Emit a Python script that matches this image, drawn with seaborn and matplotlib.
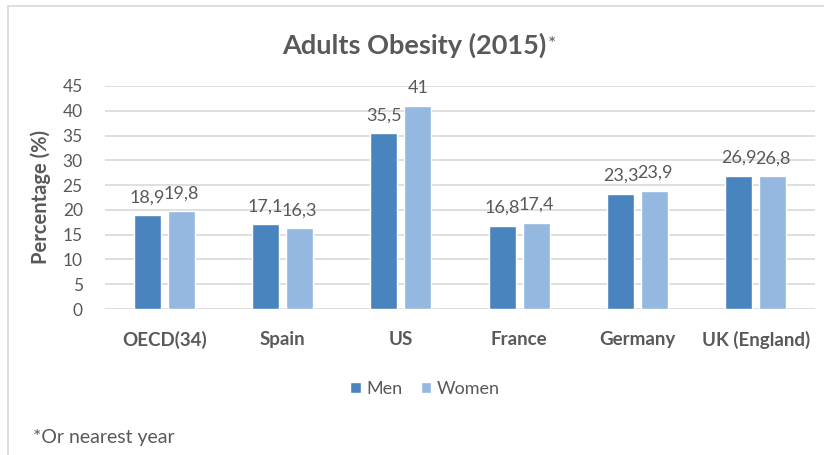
import matplotlib
matplotlib.use("Agg")
import matplotlib.pyplot as plt
import seaborn as sns
import pandas as pd
from matplotlib.patches import Patch
from matplotlib.lines import Line2D

countries = ["OECD(34)", "Spain", "US", "France", "Germany", "UK (England)"]
men = [18.9, 17.1, 35.5, 16.8, 23.3, 26.9]
women = [19.8, 16.3, 41.0, 17.4, 23.9, 26.8]
y_ticks = [0, 5, 10, 15, 20, 25, 30, 35, 40, 45]

men_color = "#4A84BE"
women_color = "#95B8E0"
text_color = "#595959"
grid_color = "#D9D9D9"

sns.set_theme(style="white")
plt.rcParams["font.family"] = ["Lato", "DejaVu Sans"]

df = pd.DataFrame({
    "country": countries * 2,
    "value": men + women,
    "sex": ["Men"] * len(countries) + ["Women"] * len(countries),
})

fig = plt.figure(figsize=(8.24, 4.55), dpi=100)
ax = fig.add_axes([105 / 824, 1 - 309 / 455, 710 / 824, (309 - 86) / 455])

sns.barplot(data=df, x="country", y="value", hue="sex", order=countries,
            hue_order=["Men", "Women"], palette=[men_color, women_color],
            width=0.575, gap=0.2, saturation=1, legend=False, ax=ax, zorder=3)

ax.set_xlim(-0.5, len(countries) - 0.5)
ax.set_ylim(0, 45)
ax.set_yticks(y_ticks)
ax.yaxis.grid(True, color=grid_color, linewidth=1.2, zorder=0)
ax.set_axisbelow(True)
for s in ax.spines.values():
    s.set_visible(False)
ax.tick_params(axis="both", length=0)
ax.tick_params(axis="y", labelsize=12.5, labelcolor=text_color, pad=16)
ax.tick_params(axis="x", labelsize=13.5, labelcolor=text_color, pad=16)
for lbl in ax.get_xticklabels():
    lbl.set_fontweight("bold")
ax.set_xlabel("")
ax.set_ylabel("Percentage (%)", fontsize=14.5, fontweight="bold", color=text_color, labelpad=8)

def fmt(v):
    s = f"{v:.1f}".replace(".", ",")
    return s[:-2] if s.endswith(",0") else s

for cont, vals in zip(ax.containers, [men, women]):
    ax.bar_label(cont, labels=[fmt(v) for v in vals], padding=7,
                 fontsize=13, color=text_color)

# Title, followed by a lighter asterisk
title = fig.text(0.503, 1 - 45 / 455, "Adults Obesity (2015)", ha="center", va="center",
                 fontsize=19.5, fontweight="bold", color=text_color)
fig.canvas.draw()
bb = title.get_window_extent(fig.canvas.get_renderer())
fig.text(bb.x1 / fig.bbox.width + 0.002, 1 - 44 / 455, "*", ha="left", va="center",
         fontsize=14, color=text_color)

handles = [Patch(facecolor=men_color, label="Men"),
           Patch(facecolor=women_color, label="Women")]
fig.legend(handles=handles, loc="center", bbox_to_anchor=(425 / 824, 1 - 389 / 455),
           ncol=2, frameon=False, fontsize=13, handlelength=0.6, handleheight=0.6,
           handletextpad=0.3, columnspacing=1.0, labelcolor=text_color)

fig.text(33 / 824, 1 - 438 / 455, "*Or nearest year", ha="left", va="center",
         fontsize=14, color=text_color)

# Chart frame edges
fig.add_artist(Line2D([8 / 824, 1], [1 - 6 / 455] * 2, color="#D9D9D9", linewidth=1.2,
                      transform=fig.transFigure))
fig.add_artist(Line2D([8 / 824] * 2, [0, 1 - 6 / 455], color="#D9D9D9", linewidth=1.2,
                      transform=fig.transFigure))

fig.savefig("out.png", dpi=100, facecolor="white")
